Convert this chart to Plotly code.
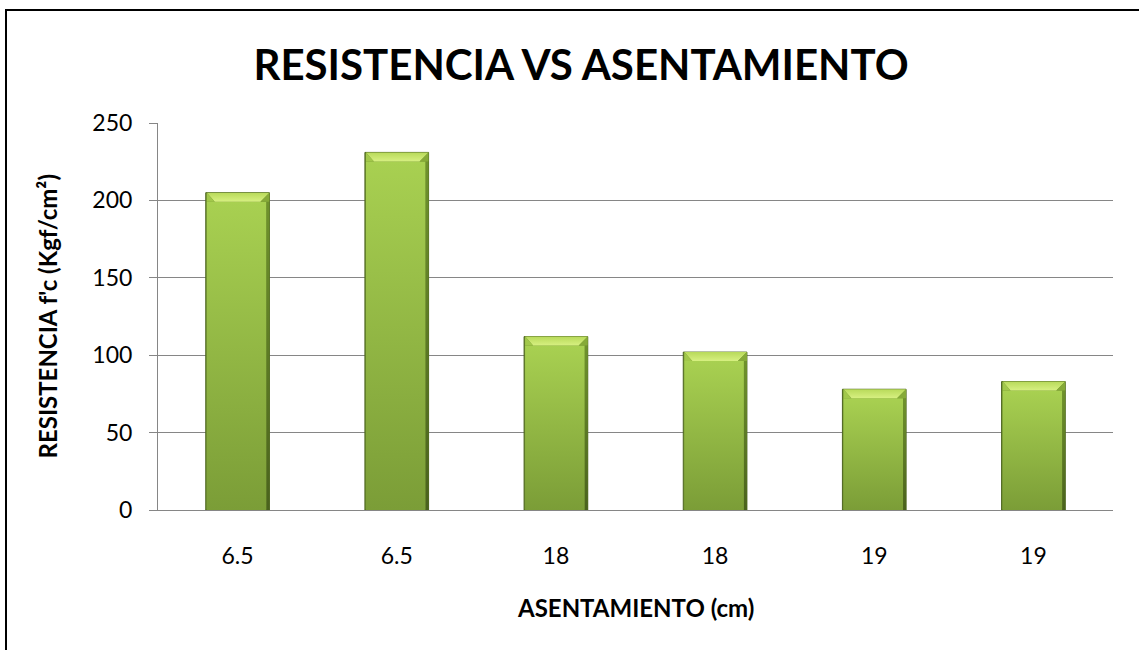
import plotly.graph_objects as go

# Slump (cm) for each sample and the measured compressive strength f'c
asentamiento = ["6.5", "6.5", "18", "18", "19", "19"]
resistencia = [205, 231, 112, 102, 78, 83]
y_ticks = [0, 50, 100, 150, 200, 250]

W, H = 1139, 650
L, R, T, B = 158, 26, 123, 140
plot_w = W - L - R
plot_h = H - T - B
y_max = 250
x_pos = list(range(len(asentamiento)))

px_x = plot_w / len(asentamiento)   # pixels per category unit
px_y = plot_h / y_max               # pixels per value unit

hw = 0.2                 # half bar width (category units)
bev_h = 9 / px_y         # bevel height in value units
bev_dx = 9 / px_x        # bevel corner inset in category units
edge_r = 3 / px_x        # dark right edge strip
edge_l = 1 / px_x

FONT = "Lato"

fig = go.Figure()

# base bar: provides outline and dark edge tone
fig.add_trace(go.Bar(
    x=x_pos, y=resistencia, width=2 * hw,
    marker=dict(color="#6d8d2d", line=dict(color="#4d6520", width=1)),
    hoverinfo="skip", showlegend=False,
))


def poly(xs, ys, grad=None, color=None):
    kw = dict(x=xs + [xs[0]], y=ys + [ys[0]], mode="lines", fill="toself",
              line=dict(width=0), hoverinfo="skip", showlegend=False)
    if grad is not None:
        kw["fillgradient"] = dict(type="vertical", colorscale=grad)
    else:
        kw["fillcolor"] = color
    fig.add_trace(go.Scatter(**kw))


for xi, v in zip(x_pos, resistencia):
    x0, x1 = xi - hw, xi + hw
    top_body = v - bev_h
    # main body with vertical gradient
    poly([x0 + edge_l, x1 - edge_r, x1 - edge_r, x0 + edge_l],
         [0, 0, top_body, top_body],
         grad=[[0, "#7b9d37"], [1, "#a8d051"]])
    # darker right edge strip
    poly([x1 - edge_r, x1, x1, x1 - edge_r],
         [0, 0, top_body, top_body],
         grad=[[0, "#4a621d"], [1, "#6f922c"]])
    # top bevel
    poly([x0 + edge_l, x1, x1 - bev_dx, x0 + bev_dx],
         [v, v, top_body, top_body],
         grad=[[0, "#d7f081"], [1, "#b8da5a"]])
    # bevel corners
    poly([x0 + edge_l, x0 + bev_dx, x0 + edge_l],
         [v, top_body, top_body], color="#a2c84b")
    poly([x1, x1, x1 - bev_dx],
         [v, top_body, top_body], color="#86aa38")

fig.update_layout(
    width=W, height=H,
    margin=dict(l=L, r=R, t=T, b=B),
    paper_bgcolor="white", plot_bgcolor="white",
    font=dict(family=FONT, color="black"),
    bargap=0.6,
    title=dict(text="<b>RESISTENCIA VS ASENTAMIENTO</b>",
               font=dict(family=FONT, size=42, color="black"),
               x=581 / W, xref="container", xanchor="center",
               y=1 - 65 / H, yref="container", yanchor="middle"),
    xaxis=dict(
        range=[-0.5, len(asentamiento) - 0.5],
        tickvals=x_pos, ticktext=asentamiento,
        showgrid=False, zeroline=False,
        showline=True, linecolor="#868686", linewidth=1,
        ticks="", ticklabelstandoff=25,
        tickfont=dict(family=FONT, size=23, color="black"),
    ),
    yaxis=dict(
        range=[0, y_max], tickvals=y_ticks,
        showgrid=True, gridcolor="#868686", gridwidth=1,
        zeroline=False,
        showline=True, linecolor="#868686", linewidth=1,
        ticks="outside", ticklen=8, tickcolor="#868686",
        ticklabelstandoff=12,
        tickfont=dict(family=FONT, size=23, color="black"),
    ),
    annotations=[
        dict(text="<b>ASENTAMIENTO (cm)</b>", xref="paper", yref="paper",
             x=0.5, y=(510 - 607) / plot_h, xanchor="center", yanchor="middle",
             showarrow=False, font=dict(family=FONT, size=24, color="black")),
        dict(text="<b>RESISTENCIA f'c (Kgf/cm²)</b>", xref="paper", yref="paper",
             x=(47 - L) / plot_w, y=0.5, xanchor="center", yanchor="middle",
             textangle=-90, showarrow=False,
             font=dict(family=FONT, size=24, color="black")),
    ],
    shapes=[
        dict(type="rect", xref="paper", yref="paper",
             x0=(6 - L) / plot_w, x1=(W + 20 - L) / plot_w,
             y0=(510 - 10) / plot_h, y1=(510 - H - 20) / plot_h,
             line=dict(color="black", width=2), fillcolor="rgba(0,0,0,0)",
             layer="above"),
    ],
)

fig.write_html("out.html")
